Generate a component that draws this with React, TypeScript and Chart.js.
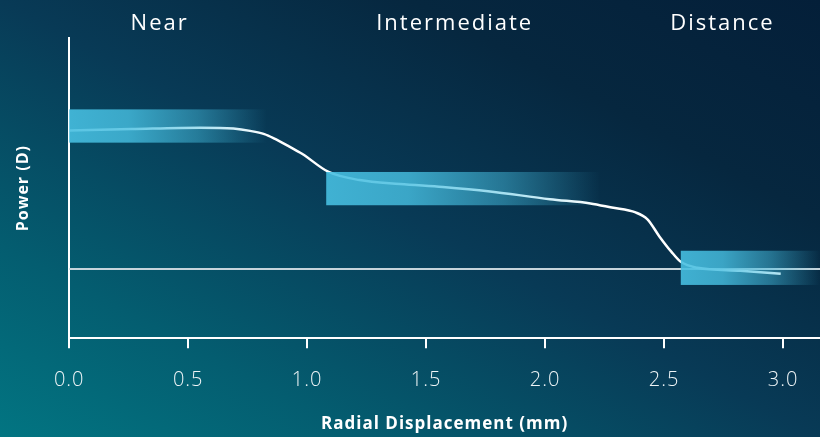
import React, { useEffect, useRef } from "react";
import { Chart, registerables } from "chart.js";

Chart.register(...registerables);

const xTicks = [0, 0.5, 1, 1.5, 2, 2.5, 3];
const xMin = 0;
const xMax = 3.155;
const yMin = -3;
const yMax = 10;

const curveX = [0, 0.26, 0.55, 0.69, 0.76, 0.82, 0.86, 0.92, 0.98, 1.09, 1.22, 1.39, 1.57, 1.76, 2.02, 2.19, 2.28, 2.38, 2.43, 2.48, 2.53, 2.57, 2.64, 2.82, 2.99];
const curveY = [6.0, 6.06, 6.12, 6.08, 5.98, 5.84, 5.66, 5.33, 4.98, 4.2, 3.85, 3.68, 3.55, 3.37, 3.02, 2.84, 2.66, 2.45, 2.15, 1.41, 0.75, 0.31, 0.05, -0.08, -0.21];

const baselineX = [0, 3.155];
const baselineY = [0, 0];

const zoneNames = ["Near", "Intermediate", "Distance"];
const zoneLabelX = [0.38, 1.62, 2.745];
const zoneStart = [0, 1.08, 2.57];
const zoneEnd = [0.83, 2.23, 3.155];
const zoneLow = [5.47, 2.76, -0.69];
const zoneHigh = [6.91, 4.2, 0.79];

const FONT = "'Open Sans', 'DejaVu Sans', sans-serif";

const bgPlugin = {
  id: "bg",
  beforeDraw(chart: any) {
    const { ctx, width, height } = chart;
    ctx.save();
    const g = ctx.createLinearGradient(0, height, 0 + 437 * 0.83, height - 820 * 0.83);
    g.addColorStop(0, "#027582");
    g.addColorStop(0.22, "#045d70");
    g.addColorStop(0.5, "#083a56");
    g.addColorStop(0.75, "#06273f");
    g.addColorStop(1, "#041f39");
    ctx.fillStyle = g;
    ctx.fillRect(0, 0, width, height);
    ctx.restore();
    (ctx as any).letterSpacing = "1px";
  },
};

const zonePlugin = {
  id: "zones",
  afterDatasetsDraw(chart: any) {
    const { ctx, scales } = chart;
    const xs = scales.x;
    const ys = scales.y;
    ctx.save();
    for (let i = 0; i < zoneNames.length; i++) {
      const x0 = xs.getPixelForValue(zoneStart[i]);
      const x1 = xs.getPixelForValue(zoneEnd[i]);
      const y0 = ys.getPixelForValue(zoneHigh[i]);
      const y1 = ys.getPixelForValue(zoneLow[i]);
      const g = ctx.createLinearGradient(x0, 0, x1, 0);
      g.addColorStop(0, "rgba(70,190,224,0.9)");
      g.addColorStop(0.3, "rgba(70,190,224,0.82)");
      g.addColorStop(0.65, "rgba(70,190,224,0.48)");
      g.addColorStop(1, "rgba(70,190,224,0)");
      ctx.fillStyle = g;
      ctx.fillRect(x0, y0, x1 - x0, y1 - y0);
    }
    ctx.restore();
  },
  afterDraw(chart: any) {
    const { ctx, scales, chartArea } = chart;
    const xs = scales.x;
    ctx.save();
    (ctx as any).letterSpacing = "2px";
    ctx.fillStyle = "#ffffff";
    ctx.font = `400 22px ${FONT}`;
    ctx.textAlign = "center";
    ctx.textBaseline = "middle";
    for (let i = 0; i < zoneNames.length; i++) {
      ctx.fillText(zoneNames[i], xs.getPixelForValue(zoneLabelX[i]), chartArea.top - 14);
    }
    ctx.restore();
  },
};

export default function App() {
  const ref = useRef<HTMLCanvasElement | null>(null);
  useEffect(() => {
    document.body.style.margin = "0";
    const canvas = ref.current!;
    const chart = new Chart(canvas, {
      type: "line",
      data: {
        datasets: [
          {
            data: curveX.map((x, i) => ({ x, y: curveY[i] })),
            borderColor: "#ffffff",
            borderWidth: 2.5,
            pointRadius: 0,
            cubicInterpolationMode: "monotone",
            fill: false,
          },
          {
            data: baselineX.map((x, i) => ({ x, y: baselineY[i] })),
            borderColor: "#c6d4db",
            borderWidth: 2,
            pointRadius: 0,
            fill: false,
          },
        ],
      },
      options: {
        animation: false,
        responsive: false,
        devicePixelRatio: 1,
        layout: { padding: { left: 0, right: 0, top: 38, bottom: 0 } },
        plugins: { legend: { display: false }, tooltip: { enabled: false } },
        scales: {
          x: {
            type: "linear",
            min: xMin,
            max: xMax,
            afterBuildTicks: (axis: any) => {
              axis.ticks = xTicks.map((v) => ({ value: v }));
            },
            border: { display: true, color: "#ffffff", width: 2 },
            grid: { drawOnChartArea: false, drawTicks: true, tickLength: 10, color: "#ffffff", lineWidth: 2 },
            ticks: {
              color: "#eef4f6",
              font: { family: FONT, size: 20, weight: "300" as any },
              padding: 20,
              callback: (v: any) => Number(v).toFixed(1),
            },
            title: {
              display: true,
              text: "Radial Displacement (mm)",
              color: "#ffffff",
              font: { family: FONT, size: 17, weight: "bold", lineHeight: 1.1 },
              padding: { top: 3, bottom: 3 },
            },
          },
          y: {
            type: "linear",
            min: yMin,
            max: yMax,
            border: { display: true, color: "#ffffff", width: 2 },
            grid: { display: false, drawTicks: false },
            ticks: { display: false },
            title: {
              display: true,
              text: "Power (D)",
              color: "#ffffff",
              font: { family: FONT, size: 16, weight: "bold" },
              padding: { top: 14, bottom: 36 },
            },
          },
        },
      },
      plugins: [bgPlugin, zonePlugin],
    });
    return () => chart.destroy();
  }, []);
  return (
    <div style={{ width: 820, height: 437 }}>
      <canvas ref={ref} width={820} height={437} style={{ display: "block" }} />
    </div>
  );
}
